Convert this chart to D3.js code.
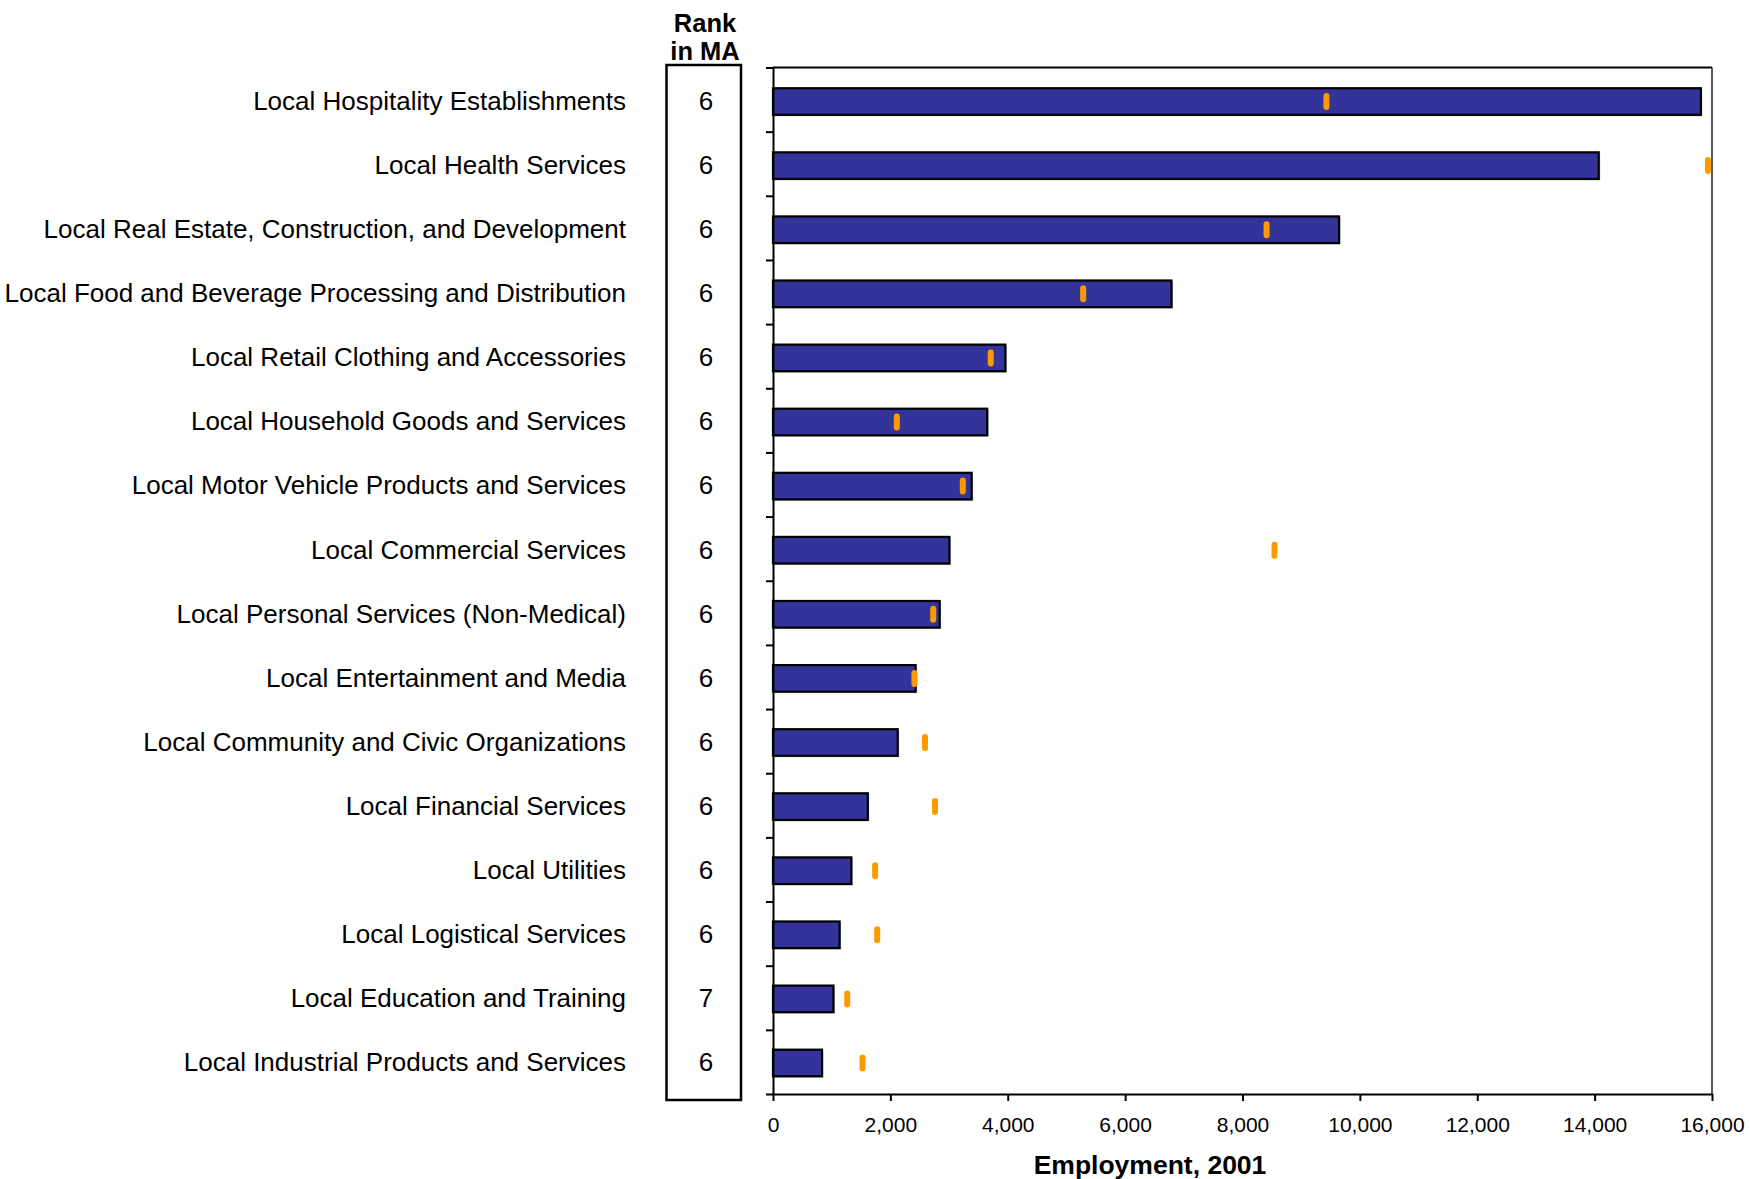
<!DOCTYPE html>
<html><head><meta charset="utf-8">
<script src="https://cdnjs.cloudflare.com/ajax/libs/d3/7.8.5/d3.min.js"></script>
<style>body{margin:0;background:#fff}svg{display:block}text{font-family:"Liberation Sans",Arial,sans-serif;fill:#000}</style>
</head><body><svg id="c" width="1751" height="1179"></svg>
<script>
const categories = [
  "Local Hospitality Establishments",
  "Local Health Services",
  "Local Real Estate, Construction, and Development",
  "Local Food and Beverage Processing and Distribution",
  "Local Retail Clothing and Accessories",
  "Local Household Goods and Services",
  "Local Motor Vehicle Products and Services",
  "Local Commercial Services",
  "Local Personal Services (Non-Medical)",
  "Local Entertainment and Media",
  "Local Community and Civic Organizations",
  "Local Financial Services",
  "Local Utilities",
  "Local Logistical Services",
  "Local Education and Training",
  "Local Industrial Products and Services"
];
const employment = [15810, 14070, 9645, 6790, 3960, 3650, 3385, 3006, 2840, 2430, 2125, 1615, 1335, 1135, 1030, 835];
const markerValues = [9430, 15930, 8410, 5285, 3710, 2110, 3234, 8545, 2730, 2410, 2590, 2760, 1740, 1775, 1265, 1525];
const ranks = [6, 6, 6, 6, 6, 6, 6, 6, 6, 6, 6, 6, 6, 6, 7, 6];
const xTicks = [0, 2000, 4000, 6000, 8000, 10000, 12000, 14000, 16000];
const xTitle = "Employment, 2001";
const rankHeader = ["Rank", "in MA"];

const svg = d3.select("#c");
const L = 773, R = 1712, T = 67.5, B = 1094;
const x = d3.scaleLinear().domain([0, 16000]).range([L, R]);
const y = d3.scaleBand().domain(categories).range([T + 1.5, B + 1.5]).paddingInner(0.585).paddingOuter(0.3);
const yIdx = d3.scaleLinear().domain([0, categories.length]).range([T, B]);

// plot frame (top & right)
svg.append("line").attr("x1", L).attr("x2", R).attr("y1", T).attr("y2", T).attr("stroke", "#000").attr("stroke-width", 2);
svg.append("line").attr("x1", R).attr("x2", R).attr("y1", T).attr("y2", B).attr("stroke", "#222").attr("stroke-width", 1.5);

// bar shadows
svg.append("g").selectAll("rect").data(categories).join("rect")
  .attr("x", x(0) + 1.5).attr("y", d => y(d) + 1.5)
  .attr("width", (d, i) => x(employment[i]) - x(0)).attr("height", y.bandwidth())
  .attr("fill", "#9a9a9a").attr("opacity", 0.6);
// bars
svg.append("g").selectAll("rect").data(categories).join("rect")
  .attr("x", x(0)).attr("y", d => y(d))
  .attr("width", (d, i) => x(employment[i]) - x(0)).attr("height", y.bandwidth())
  .attr("fill", "#333399").attr("stroke", "#000").attr("stroke-width", 2.2);

// markers
svg.append("g").selectAll("line").data(categories).join("line")
  .attr("x1", (d, i) => x(markerValues[i])).attr("x2", (d, i) => x(markerValues[i]))
  .attr("y1", d => y(d) + y.bandwidth() / 2 - 5.5).attr("y2", d => y(d) + y.bandwidth() / 2 + 5.5)
  .attr("stroke", "#FF9900").attr("stroke-width", 6).attr("stroke-linecap", "round");

// y axis
const ya = svg.append("g").attr("transform", `translate(${L},0)`)
  .call(d3.axisLeft(yIdx).tickValues(d3.range(categories.length + 1)).tickFormat("").tickSize(7).tickSizeOuter(0));
ya.selectAll("path,line").attr("stroke", "#000").attr("stroke-width", 2);

// x axis
const xa = svg.append("g").attr("transform", `translate(0,${B})`)
  .call(d3.axisBottom(x).tickValues(xTicks).tickFormat(d3.format(",")).tickSize(7).tickSizeOuter(0).tickPadding(16));
xa.selectAll("path,line").attr("stroke", "#000").attr("stroke-width", 2);
xa.selectAll("text").attr("font-size", 21).attr("font-family", "Liberation Sans, Arial, sans-serif").attr("fill", "#000");

svg.append("text").attr("x", 1150).attr("y", 1174).attr("text-anchor", "middle")
  .attr("font-size", 26.5).attr("font-weight", "bold").text(xTitle);

// category labels
svg.append("g").selectAll("text").data(categories).join("text")
  .attr("x", 626).attr("y", d => y(d) + y.bandwidth() / 2 - 1).attr("dy", "0.36em")
  .attr("text-anchor", "end").attr("font-size", 26).text(d => d);

// rank box
svg.append("rect").attr("x", 666.5).attr("y", 65).attr("width", 74.5).attr("height", 1100 - 65)
  .attr("fill", "none").attr("stroke", "#000").attr("stroke-width", 2.5);
svg.append("g").selectAll("text").data(categories).join("text")
  .attr("x", 706).attr("y", d => y(d) + y.bandwidth() / 2 - 1).attr("dy", "0.36em")
  .attr("text-anchor", "middle").attr("font-size", 26).text((d, i) => ranks[i]);
svg.append("g").selectAll("text").data(rankHeader).join("text")
  .attr("x", 705).attr("y", (d, i) => 31.5 + i * 28.5).attr("text-anchor", "middle")
  .attr("font-size", 25.5).attr("font-weight", "bold").text(d => d);
</script></body></html>
